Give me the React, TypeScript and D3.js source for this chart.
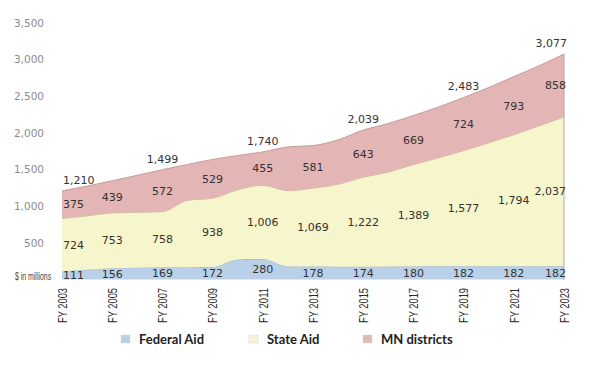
import React from "react";
import * as d3 from "d3";

// annual values, $ in millions (odd years are the labelled ones)
const years = [2003, 2004, 2005, 2006, 2007, 2008, 2009, 2010, 2011, 2012, 2013, 2014, 2015, 2016, 2017, 2018, 2019, 2020, 2021, 2022, 2023];
const federalAid = [111, 135, 156, 163, 169, 170, 172, 275, 280, 180, 178, 176, 174, 177, 180, 181, 182, 182, 182, 182, 182];
const stateAid = [724, 735, 753, 755, 758, 910, 938, 950, 1006, 1033, 1069, 1125, 1222, 1290, 1389, 1480, 1577, 1683, 1794, 1913, 2037];
const districts = [375, 405, 439, 505, 572, 490, 529, 468, 455, 597, 581, 605, 643, 663, 669, 694, 724, 755, 793, 820, 858];

const tickYears = [2003, 2005, 2007, 2009, 2011, 2013, 2015, 2017, 2019, 2021, 2023];
// totals printed above the stack, as given in the source
const totalLabelYears = [2003, 2007, 2011, 2015, 2019, 2023];
const totalLabels = [1210, 1499, 1740, 2039, 2483, 3077];
const yTicks = [500, 1000, 1500, 2000, 2500, 3000, 3500];

const seriesKeys = ["federal", "state", "districts"];
const seriesNames = ["Federal Aid", "State Aid", "MN districts"];
const fills = ["#b9d0e8", "#f7f5cc", "#e3b5b4"];
const edges = ["#9db6d0", "#c9c09c", "#c79b9c"];
const swatches = ["#bcd0e4", "#f5f3d6", "#ddbab4"];

const W = 600;
const H = 373;

const App = () => {
  const x = d3.scaleLinear().domain([2003, 2023]).range([62, 564]);
  const y = d3.scaleLinear().domain([0, 3500]).range([279.6, 23]);
  const fmt = d3.format(",");

  const rows = years.map((yr, i) => ({
    year: yr,
    federal: federalAid[i],
    state: stateAid[i],
    districts: districts[i],
  }));
  const stacked = d3.stack().keys(seriesKeys)(rows as any);

  const area = d3
    .area<any>()
    .x((d) => x(d.data.year))
    .y0((d) => y(d[0]))
    .y1((d) => y(d[1]))
    .curve(d3.curveMonotoneX);
  const topLine = d3
    .line<any>()
    .x((d) => x(d.data.year))
    .y((d) => y(d[1]))
    .curve(d3.curveMonotoneX);

  const labelFont = { fontFamily: "DejaVu Sans", fontSize: 11, fill: "#333" };

  // anchor first labels at the left edge, last ones at the right edge
  const anchorFor = (yr) => (yr === 2003 ? "start" : yr === 2023 ? "end" : "middle");
  const xFor = (yr) => (yr === 2003 ? x(yr) + 1 : yr === 2023 ? x(yr) + 2 : x(yr));

  const lastIdx = years.length - 1;
  const grandTotal = federalAid[lastIdx] + stateAid[lastIdx] + districts[lastIdx];

  return (
    <svg width={W} height={H} style={{ position: "absolute", left: 0, top: 0, background: "#fff" }}>
      {/* y axis labels */}
      {yTicks.map((t) => (
        <text key={t} x={44} y={y(t)} dy="0.35em" textAnchor="end"
          style={{ fontFamily: "DejaVu Sans", fontSize: 10.5, fill: "#8c8c8c" }}>
          {fmt(t)}
        </text>
      ))}
      <text transform={`translate(15,${y(0) - 3}) scale(0.66,1)`} dy="0.35em"
        style={{ fontFamily: "Liberation Sans", fontSize: 10.5, fill: "#444" }}>
        $ in millions
      </text>

      {/* stacked areas */}
      {stacked.map((s, k) => (
        <g key={seriesKeys[k]}>
          <path d={area(s) as string} fill={fills[k]} />
          <path d={topLine(s) as string} fill="none" stroke={edges[k]} strokeWidth={1} />
        </g>
      ))}
      <line x1={x(2023)} x2={x(2023)} y1={y(grandTotal)} y2={y(0)} stroke="#b0a8a8" strokeWidth={1} />

      {/* values inside bands */}
      {stacked.map((s, k) =>
        s
          .filter((d) => tickYears.includes(d.data.year))
          .map((d) => (
            <text key={seriesKeys[k] + d.data.year} x={xFor(d.data.year)} y={y((d[0] + d[1]) / 2)}
              dy="0.35em" textAnchor={anchorFor(d.data.year)} style={labelFont}>
              {fmt(d[1] - d[0])}
            </text>
          ))
      )}

      {/* totals above */}
      {totalLabelYears.map((yr, j) => (
        <text key={"t" + yr} x={xFor(yr) + (yr === 2023 ? 1 : 0)} y={y(totalLabels[j]) - 11} dy="0.35em"
          textAnchor={anchorFor(yr)} style={labelFont}>
          {fmt(totalLabels[j])}
        </text>
      ))}

      {/* x tick labels */}
      {tickYears.map((yr) => (
        <text key={"x" + yr} transform={`translate(${x(yr) + 0.5},288) rotate(-90)`} dy="0.35em"
          textAnchor="end" textLength={35} lengthAdjust="spacingAndGlyphs"
          style={{ fontFamily: "Liberation Sans", fontSize: 12, fill: "#2a2a2a" }}>
          {"FY " + yr}
        </text>
      ))}

      {/* legend */}
      {seriesNames.map((name, k) => {
        const lx = [121, 249, 363][k];
        return (
          <g key={name} transform={`translate(${lx},339)`}>
            <rect x={0} y={-4} width={9} height={8} fill={swatches[k]} stroke="#d6d6d0" strokeWidth={0.5} />
            <text x={18} y={0} dy="0.35em"
              style={{ fontFamily: "Lato", fontWeight: 700, fontSize: 13, fill: "#222" }}>
              {name}
            </text>
          </g>
        );
      })}
    </svg>
  );
};

export default App;
